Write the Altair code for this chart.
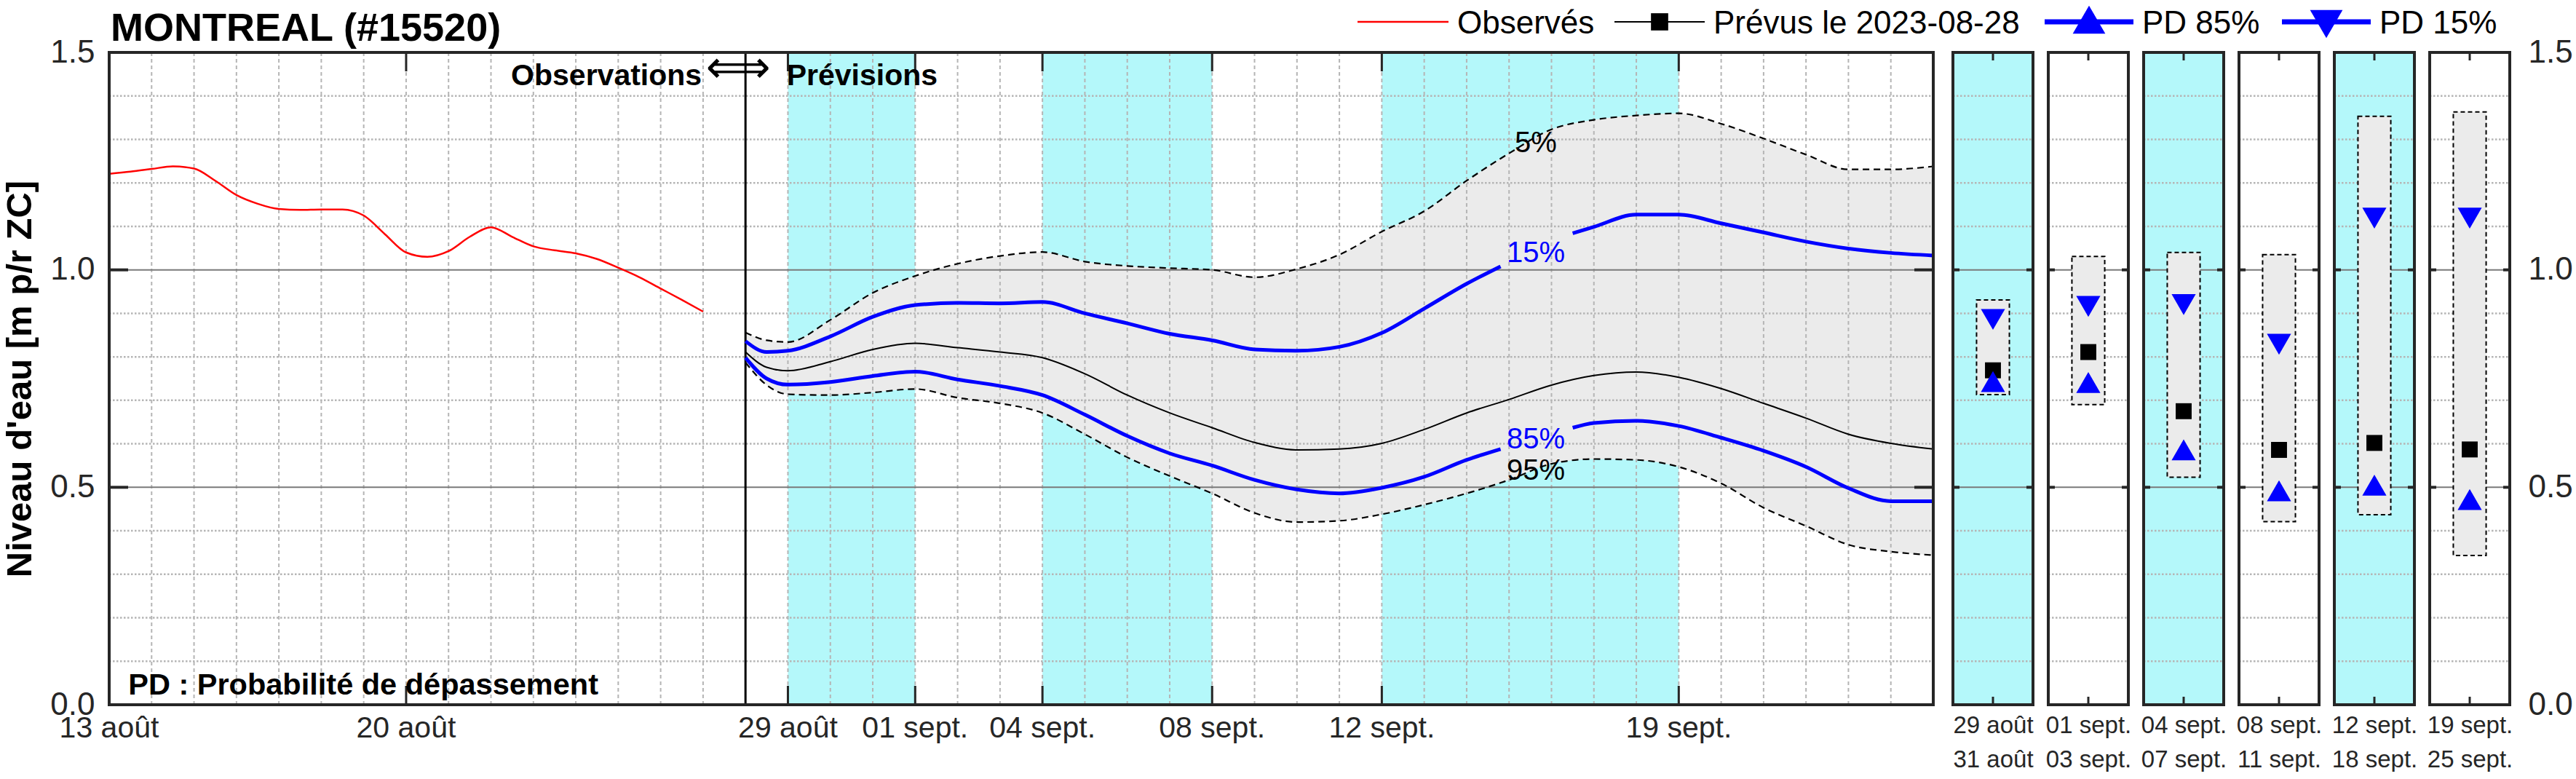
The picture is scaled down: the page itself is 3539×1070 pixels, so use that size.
import json
import altair as alt
import pandas as pd

# ---------------- data ----------------
TITLE = "MONTREAL (#15520)"
Y_TITLE = "Niveau d'eau [m p/r ZC]"

# x = days since 13 août 2023
X_END = 43
TICK_DAYS = [0, 7, 16, 19, 22, 26, 30, 37]
TICK_LABELS = ["13 août", "20 août", "29 août", "01 sept.", "04 sept.", "08 sept.", "12 sept.", "19 sept."]
FORECAST_START = 15          # 28 août
BAND_START = [16, 22, 30]
BAND_END = [19, 26, 37]

OBS_DAY = [0, 0.5, 1, 1.5, 2, 2.5, 3, 3.5, 4, 4.5, 5, 5.5, 6, 6.5, 7, 7.5, 8, 8.5, 9, 9.5,
           10, 10.5, 11, 11.5, 12, 12.5, 13, 13.5, 14]
OBS_LEVEL = [1.221, 1.226, 1.232, 1.238, 1.233, 1.205, 1.172, 1.152, 1.140, 1.138, 1.139, 1.139,
             1.125, 1.082, 1.040, 1.030, 1.043, 1.076, 1.098, 1.076, 1.054, 1.045, 1.038, 1.025,
             1.005, 0.983, 0.957, 0.931, 0.904]

# forecast: days after 28 août
FC_OFFSET = [0, 0.5] + list(range(1, 29))
P5 = [0.856, 0.838, 0.834, 0.885, 0.947, 0.986, 1.014, 1.032, 1.041, 1.019, 1.009, 1.004, 1.000,
      0.983, 1.002, 1.035, 1.088, 1.135, 1.205, 1.268, 1.323, 1.345, 1.355, 1.360, 1.336, 1.302,
      1.265, 1.231, 1.231, 1.238]
MED = [0.811, 0.776, 0.768, 0.789, 0.817, 0.831, 0.821, 0.811, 0.798, 0.761, 0.712, 0.671, 0.637,
       0.603, 0.586, 0.588, 0.601, 0.633, 0.671, 0.702, 0.735, 0.757, 0.765, 0.753, 0.727, 0.693,
       0.659, 0.622, 0.601, 0.588]
P95 = [0.787, 0.735, 0.714, 0.712, 0.718, 0.726, 0.706, 0.693, 0.671, 0.622, 0.569, 0.526, 0.486,
       0.441, 0.420, 0.423, 0.438, 0.460, 0.486, 0.517, 0.554, 0.565, 0.563, 0.547, 0.509, 0.453,
       0.411, 0.368, 0.352, 0.344]

BLUE_OFFSET = [0, 0.5] + list(range(1, 18)) + [17.8, 19.5] + list(range(20, 29))
P15 = [0.836, 0.811, 0.814, 0.847, 0.892, 0.919, 0.924, 0.923, 0.926, 0.900, 0.877, 0.853, 0.838,
       0.817, 0.814, 0.823, 0.855, 0.911, 0.968, 1.008, 1.084, 1.099, 1.127, 1.127, 1.107, 1.086,
       1.065, 1.049, 1.039, 1.033]
P85 = [0.798, 0.750, 0.736, 0.742, 0.756, 0.766, 0.748, 0.733, 0.712, 0.667, 0.618, 0.578, 0.550,
       0.517, 0.495, 0.486, 0.499, 0.524, 0.563, 0.588, 0.637, 0.648, 0.653, 0.641, 0.614, 0.584,
       0.547, 0.498, 0.468, 0.468]
LABEL_GAP = 18.5

PCT_LABELS = ["5%", "15%", "85%", "95%"]
PCT_LABEL_DAY = 33.63
PCT_LABEL_Y = [1.271, 1.018, 0.589, 0.517]
PCT_LABEL_COLOR = ["black", "blue", "blue", "black"]

# weekly panels
PERIOD_START = ["29 août", "01 sept.", "04 sept.", "08 sept.", "12 sept.", "19 sept."]
PERIOD_END = ["31 août", "03 sept.", "07 sept.", "11 sept.", "18 sept.", "25 sept."]
PER_LO = [0.713, 0.690, 0.523, 0.421, 0.437, 0.343]
PER_HI = [0.931, 1.031, 1.040, 1.035, 1.353, 1.363]
PER_MED = [0.769, 0.811, 0.675, 0.586, 0.602, 0.587]
PER_P85 = [0.743, 0.741, 0.586, 0.492, 0.505, 0.472]
PER_P15 = [0.886, 0.916, 0.920, 0.829, 1.119, 1.119]

Y_MAJOR = [0.5, 1.0]
Y_MINOR = [0.1, 0.2, 0.3, 0.4, 0.6, 0.7, 0.8, 0.9, 1.1, 1.2, 1.3, 1.4]
Y_LABELS = [0.0, 0.5, 1.0, 1.5]

# ---------------- style ----------------
FONT = "Liberation Sans"
CYAN = "#b4f8fa"
BAND = "#ebebeb"
FRAME = "#262626"
GRID = "#b5b5b5"
W, H = 2506, 896
PW = 110

xs = alt.Scale(domain=[0, X_END], nice=False, zero=False)
ys = alt.Scale(domain=[0, 1.5], nice=False, zero=False)
x_axis = None
y_axis = alt.Axis(values=Y_LABELS, format=".1f", title=Y_TITLE, titleFontSize=49,
                  titleFontWeight="bold", titleFont=FONT, titleColor="black", titlePadding=16,
                  ticks=False, tickSize=0, domain=False, grid=False, labelFlush=False,
                  labelFontSize=44, labelPadding=20, labelColor=FRAME, labelFont=FONT)


def X(f):
    return alt.X(f"{f}:Q", scale=xs, axis=x_axis)


def Y(f):
    return alt.Y(f"{f}:Q", scale=ys, axis=y_axis)


def XD(v):
    return alt.XDatum(v, type="quantitative", scale=xs, axis=x_axis)


def YD(v):
    return alt.YDatum(v, type="quantitative", scale=ys, axis=y_axis)


ONE = pd.DataFrame({"k": [0]})

obs_df = pd.DataFrame({"day": OBS_DAY, "v": OBS_LEVEL})
fc_df = pd.DataFrame({"day": [FORECAST_START + o for o in FC_OFFSET], "p5": P5, "med": MED, "p95": P95})
blue_df = pd.DataFrame({
    "day": [FORECAST_START + o for o in BLUE_OFFSET],
    "p15": P15, "p85": P85,
    "seg": [0 if o < LABEL_GAP else 1 for o in BLUE_OFFSET],
})
band_df = pd.DataFrame({"start": BAND_START, "end": BAND_END})
vgrid_df = pd.DataFrame({"day": [d for d in range(1, X_END) if d != FORECAST_START]})
minor_df = pd.DataFrame({"v": Y_MINOR})
major_df = pd.DataFrame({"v": Y_MAJOR})
tick_df = pd.DataFrame({"day": TICK_DAYS, "label": TICK_LABELS})
pct_df = pd.DataFrame({"t": PCT_LABELS, "v": PCT_LABEL_Y, "c": PCT_LABEL_COLOR,
                       "day": [PCT_LABEL_DAY] * len(PCT_LABELS)})

cyan = alt.Chart(band_df).mark_rect(color=CYAN).encode(
    x=X("start"), x2="end", y=YD(0), y2=alt.Y2Datum(1.5))
band = alt.Chart(fc_df).mark_area(color=BAND, interpolate="monotone").encode(
    x=X("day"), y=Y("p95"), y2="p5")
vgrid = alt.Chart(vgrid_df).mark_rule(color=GRID, strokeWidth=2, strokeDash=[5, 4]).encode(
    x=X("day"), y=YD(0), y2=alt.Y2Datum(1.5))
hgrid = alt.Chart(minor_df).mark_rule(color=GRID, strokeWidth=2.5, strokeDash=[2.5, 2.5]).encode(
    y=Y("v"), x=XD(0), x2=alt.X2Datum(X_END))
hmajor = alt.Chart(major_df).mark_rule(color="#7a7a7a", strokeWidth=2).encode(
    y=Y("v"), x=XD(0), x2=alt.X2Datum(X_END))
xt_bot = alt.Chart(tick_df).mark_rule(color=FRAME, strokeWidth=3).encode(
    x=X("day"), y=alt.value(H), y2=alt.value(H - 26))
xt_top = alt.Chart(tick_df).mark_rule(color=FRAME, strokeWidth=3).encode(
    x=X("day"), y=alt.value(0), y2=alt.value(26))
xlabels = alt.Chart(tick_df).mark_text(fontSize=41, font=FONT, color=FRAME, align="center",
                                       baseline="top").encode(
    x=X("day"), y=alt.value(H + 13), text="label:N")
yt_l = alt.Chart(major_df).mark_rule(color=FRAME, strokeWidth=4).encode(
    y=Y("v"), x=alt.value(0), x2=alt.value(26))
yt_r = alt.Chart(major_df).mark_rule(color=FRAME, strokeWidth=4).encode(
    y=Y("v"), x=alt.value(W), x2=alt.value(W - 26))
divider = alt.Chart(ONE).mark_rule(color="black", strokeWidth=3).encode(
    x=XD(FORECAST_START), y=YD(0), y2=alt.Y2Datum(1.5))
d5 = alt.Chart(fc_df).mark_line(color="black", strokeWidth=2.2, strokeDash=[9, 6],
                                interpolate="monotone").encode(x=X("day"), y=Y("p5"))
d95 = alt.Chart(fc_df).mark_line(color="black", strokeWidth=2.2, strokeDash=[9, 6],
                                 interpolate="monotone").encode(x=X("day"), y=Y("p95"))
med = alt.Chart(fc_df).mark_line(color="black", strokeWidth=2,
                                 interpolate="monotone").encode(x=X("day"), y=Y("med"))
b15 = alt.Chart(blue_df).mark_line(color="blue", strokeWidth=5, interpolate="monotone").encode(
    x=X("day"), y=Y("p15"), detail="seg:N")
b85 = alt.Chart(blue_df).mark_line(color="blue", strokeWidth=5, interpolate="monotone").encode(
    x=X("day"), y=Y("p85"), detail="seg:N")
red = alt.Chart(obs_df).mark_line(color="red", strokeWidth=2.5, interpolate="monotone").encode(
    x=X("day"), y=Y("v"))
pct = alt.Chart(pct_df).mark_text(fontSize=40, font=FONT, align="center", baseline="alphabetic").encode(
    x=X("day"), y=Y("v"), text="t:N", color=alt.Color("c:N", scale=None))
t_obs = alt.Chart(ONE).mark_text(text="Observations", fontSize=41, fontWeight="bold", font=FONT,
                                 align="right", baseline="alphabetic").encode(x=XD(13.97), y=YD(1.425))
t_arrow = alt.Chart(ONE).mark_text(text="⟺", fontSize=62, font="DejaVu Sans",
                                   align="center", baseline="alphabetic").encode(x=XD(14.83), y=YD(1.432))
t_prev = alt.Chart(ONE).mark_text(text="Prévisions", fontSize=41, fontWeight="bold", font=FONT,
                                  align="left", baseline="alphabetic").encode(x=XD(15.97), y=YD(1.425))
t_pd = alt.Chart(ONE).mark_text(text="PD : Probabilité de dépassement", fontSize=41.5, fontWeight="bold",
                                font=FONT, align="left", baseline="alphabetic").encode(x=XD(0.45), y=YD(0.024))
frame = alt.Chart(ONE).mark_rect(filled=False, stroke=FRAME, strokeWidth=4).encode(
    x=XD(0), x2=alt.X2Datum(X_END), y=YD(0), y2=alt.Y2Datum(1.5))

main = alt.layer(cyan, band, vgrid, hgrid, hmajor, xt_bot, xt_top, yt_l, yt_r, divider,
                 d5, d95, med, b15, b85, red, pct, t_obs, t_arrow, t_prev, t_pd, frame, xlabels
                 ).properties(width=W, height=H)


def panel(i):
    df = pd.DataFrame({"lo": [PER_LO[i]], "hi": [PER_HI[i]], "med": [PER_MED[i]],
                       "p85": [PER_P85[i]], "p15": [PER_P15[i]]})
    pxs = alt.Scale(domain=[0, 1], nice=False, zero=False)
    lbl = json.dumps([PERIOD_START[i], PERIOD_END[i]], ensure_ascii=False)
    pxa = alt.Axis(values=[0.5], labelExpr=lbl, title=None, ticks=False, tickSize=0, domain=False,
                   grid=False, labelFlush=False, labelAlign="center", labelBaseline="top",
                   labelFontSize=33, labelLineHeight=47,
                   labelPadding=12, labelColor=FRAME, labelFont=FONT)
    if i == len(PER_LO) - 1:
        pya = alt.Axis(orient="right", values=Y_LABELS, format=".1f", title=None, ticks=False,
                       tickSize=0, domain=False, grid=False, labelFlush=False, labelFontSize=44,
                       labelPadding=25, labelColor=FRAME, labelFont=FONT)
    else:
        pya = None

    def PX(v):
        return alt.XDatum(v, type="quantitative", scale=pxs, axis=pxa)

    def PYf(f):
        return alt.Y(f"{f}:Q", scale=ys, axis=pya)

    def PYD(v):
        return alt.YDatum(v, type="quantitative", scale=ys, axis=pya)

    bg_color = CYAN if i % 2 == 0 else "white"
    bg = alt.Chart(ONE).mark_rect(color=bg_color).encode(
        x=PX(0), x2=alt.X2Datum(1), y=PYD(0), y2=alt.Y2Datum(1.5))
    mn = alt.Chart(minor_df).mark_rule(color=GRID, strokeWidth=2.5, strokeDash=[2.5, 2.5]).encode(
        y=PYf("v"), x=PX(0), x2=alt.X2Datum(1))
    mj = alt.Chart(major_df).mark_rule(color="#7a7a7a", strokeWidth=2).encode(
        y=PYf("v"), x=PX(0), x2=alt.X2Datum(1))
    tl = alt.Chart(major_df).mark_rule(color=FRAME, strokeWidth=4).encode(
        y=PYf("v"), x=alt.value(0), x2=alt.value(9))
    tr = alt.Chart(major_df).mark_rule(color=FRAME, strokeWidth=4).encode(
        y=PYf("v"), x=alt.value(PW), x2=alt.value(PW - 9))
    tt = alt.Chart(ONE).mark_rule(color=FRAME, strokeWidth=3).encode(
        x=PX(0.5), y=alt.value(0), y2=alt.value(11))
    tb = alt.Chart(ONE).mark_rule(color=FRAME, strokeWidth=3).encode(
        x=PX(0.5), y=alt.value(H), y2=alt.value(H - 11))
    box = alt.Chart(df).mark_rect(fill=BAND, stroke="black", strokeWidth=2, strokeDash=[6, 4]).encode(
        x=PX(0.295), x2=alt.X2Datum(0.705), y=PYf("lo"), y2="hi")
    sq = alt.Chart(df).mark_point(shape="square", filled=True, size=480, color="black", opacity=1).encode(
        x=PX(0.5), y=PYf("med"))
    tu = alt.Chart(df).mark_point(shape="triangle-up", filled=True, size=1100, color="blue", opacity=1).encode(
        x=PX(0.5), y=PYf("p85"))
    td = alt.Chart(df).mark_point(shape="triangle-down", filled=True, size=1100, color="blue", opacity=1).encode(
        x=PX(0.5), y=PYf("p15"))
    fr = alt.Chart(ONE).mark_rect(filled=False, stroke=FRAME, strokeWidth=4).encode(
        x=PX(0), x2=alt.X2Datum(1), y=PYD(0), y2=alt.Y2Datum(1.5))
    return alt.layer(bg, mn, mj, tl, tr, tt, tb, box, sq, tu, td, fr).properties(width=PW, height=H)


panels = alt.hconcat(*[panel(i) for i in range(len(PER_LO))], spacing=21, bounds="flush")
row = alt.hconcat(main, panels, spacing=27, bounds="flush")
ROW_W = W + 27 + 6 * PW + 5 * 21

# ---------------- header: title + legend ----------------
def htext(t, x, y, size, weight="normal"):
    return alt.Chart(ONE).mark_text(text=t, fontSize=size, fontWeight=weight, font=FONT, align="left",
                                    baseline="alphabetic", color="black").encode(
        x=alt.value(x), y=alt.value(y))


def hline(x1, x2, y, color, width):
    return alt.Chart(ONE).mark_rule(color=color, strokeWidth=width).encode(
        x=alt.value(x1), x2=alt.value(x2), y=alt.value(y))


def hsym(shape, x, y, size, color):
    return alt.Chart(ONE).mark_point(shape=shape, filled=True, size=size, color=color, opacity=1).encode(
        x=alt.value(x), y=alt.value(y))


LY = 30
LB = 46
header = alt.layer(
    htext(TITLE, 2, 56, 54, "bold"),
    hline(1715, 1840, LY, "red", 2.5),
    htext("Observés", 1852, LB, 44),
    hline(2068, 2192, LY, "black", 2),
    hsym("square", 2130, LY, 560, "black"),
    htext("Prévus le 2023-08-28", 2204, LB, 44),
    hline(2659, 2781, LY, "blue", 7),
    hsym("triangle-up", 2720, LY - 3, 2000, "blue"),
    htext("PD 85%", 2793, LB, 44),
    hline(2985, 3107, LY, "blue", 7),
    hsym("triangle-down", 3046, LY + 3, 2000, "blue"),
    htext("PD 15%", 3119, LB, 44),
).properties(width=ROW_W, height=72, view=alt.ViewBackground(strokeWidth=0))

chart = alt.vconcat(header, row, spacing=0, bounds="flush").properties(
    padding={"left": 3, "top": 0, "right": 0, "bottom": 0}
).configure(font=FONT).configure_view(stroke=None)

chart.save("out.html", embed_options={"renderer": "svg", "actions": False})
